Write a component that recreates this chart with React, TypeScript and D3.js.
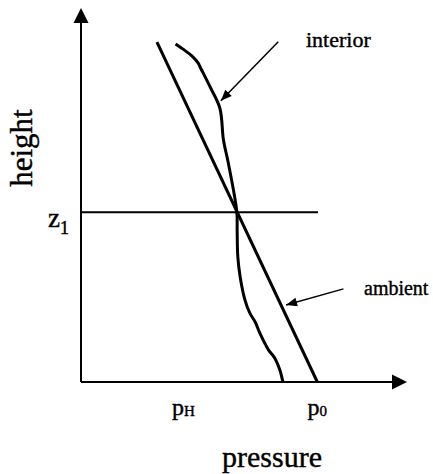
import React from "react";
import * as d3 from "d3";

// Data (pressure and height in arbitrary units, 0..100)
const ambientPressure = [23.3, 72.5];
const ambientHeight = [90.9, 0];

const interiorPressure = [29.0, 31.3, 34.0, 36.0, 36.5, 39.6, 42.6, 43.7, 45.2, 47.8, 47.9, 48.1, 48.8, 50.3, 51.8, 53.4, 54.9, 57.5, 59.5, 61.0, 61.9];
const interiorHeight = [90.4, 89.0, 87.2, 85.2, 84.3, 78.9, 73.2, 64.7, 58.5, 45.5, 40.6, 33.5, 28.2, 21.9, 18.4, 16.1, 13.0, 8.6, 6.3, 3.2, 0.1];

const z1Height = 45.4;
const z1End = 72.7;

const tickLabels = ["p", "p"];
const tickSubs = ["H", "0"];
const tickValues = [31.4, 72.5];

const annotationLabels = ["interior", "ambient"];
const annotationFrom = [[60.5, 91.0], [80.5, 24.9]];
const annotationTo = [[42.9, 75.2], [62.9, 20.6]];

const W = 433;
const H = 474;
const ox = 81;
const oy = 382;

export default function App() {
  const x = d3.scaleLinear().domain([0, 100]).range([ox, ox + 326]);
  const y = d3.scaleLinear().domain([0, 100]).range([oy, oy - 374]);

  const line = d3
    .line<[number, number]>()
    .x((d) => x(d[0]))
    .y((d) => y(d[1]));

  const ambient: [number, number][] = ambientPressure.map((p, i) => [p, ambientHeight[i]]);
  const interior: [number, number][] = interiorPressure.map((p, i) => [p, interiorHeight[i]]);

  const font = "'Liberation Serif', 'Times New Roman', serif";
  const ts = { stroke: "#000", strokeWidth: 0.4 } as const;

  const arrowHead = (x1: number, y1: number, x2: number, y2: number, len: number, half: number) => {
    const a = Math.atan2(y2 - y1, x2 - x1);
    const bx = x2 - len * Math.cos(a);
    const by = y2 - len * Math.sin(a);
    const px = -Math.sin(a) * half;
    const py = Math.cos(a) * half;
    return `${x2},${y2} ${bx + px},${by + py} ${bx - px},${by - py}`;
  };

  const xEnd = x(100);
  const yEnd = y(100);

  return (
    <svg
      width={W}
      height={H}
      style={{ position: "absolute", left: 0, top: 0, background: "#fff" }}
    >
      <rect x={0} y={0} width={W} height={H} fill="#fff" />
      {/* axes */}
      <line x1={ox} y1={oy} x2={ox} y2={yEnd + 14} stroke="#000" strokeWidth={2} />
      <polygon points={arrowHead(ox, oy, ox, yEnd, 15, 7.5)} fill="#000" />
      <line x1={ox} y1={oy} x2={xEnd - 14} y2={oy} stroke="#000" strokeWidth={2} />
      <polygon points={arrowHead(ox, oy, xEnd, oy, 15, 7.5)} fill="#000" />

      {/* z1 line */}
      <line x1={ox} y1={y(z1Height)} x2={x(z1End)} y2={y(z1Height)} stroke="#000" strokeWidth={2} />

      {/* curves */}
      <path d={line(ambient) || ""} fill="none" stroke="#000" strokeWidth={3} />
      <path
        d={d3.line<[number, number]>().x((d) => x(d[0])).y((d) => y(d[1])).curve(d3.curveCatmullRom)(interior) || ""}
        fill="none"
        stroke="#000"
        strokeWidth={3}
        strokeLinejoin="round"
      />

      {/* annotations */}
      {annotationLabels.map((lab, i) => {
        const x1 = x(annotationFrom[i][0]);
        const y1 = y(annotationFrom[i][1]);
        const x2 = x(annotationTo[i][0]);
        const y2 = y(annotationTo[i][1]);
        return (
          <g key={lab}>
            <line x1={x1} y1={y1} x2={x2} y2={y2} stroke="#000" strokeWidth={1.5} />
            <polygon points={arrowHead(x1, y1, x2, y2, 11, 4.5)} fill="#000" />
          </g>
        );
      })}
      <text x={306} y={47} fontFamily={font} fontSize={22} fill="#000" {...ts}>interior</text>
      <text x={364} y={295} fontFamily={font} fontSize={20} fill="#000" {...ts}>ambient</text>

      {/* tick labels */}
      {tickLabels.map((t, i) => (
        <text key={i} x={x(tickValues[i])} y={415} fontFamily={font} fontSize={24} textAnchor="middle" fill="#000" {...ts}>
          {t}
          <tspan fontSize={15} dy={1}>{tickSubs[i]}</tspan>
        </text>
      ))}

      {/* z1 label */}
      <text x={69} y={y(z1Height) + 15} fontFamily={font} fontSize={27} textAnchor="end" fill="#000" {...ts}>
        z
        <tspan fontSize={18} dy={7}>1</tspan>
      </text>

      {/* axis titles */}
      <text
        transform={`translate(32,148) rotate(-90)`}
        fontFamily={font}
        fontSize={31}
        textAnchor="middle"
        fill="#000"
        {...ts}
      >
        height
      </text>
      <text x={272} y={467} fontFamily={font} fontSize={30} textAnchor="middle" fill="#000" {...ts}>
        pressure
      </text>
    </svg>
  );
}
